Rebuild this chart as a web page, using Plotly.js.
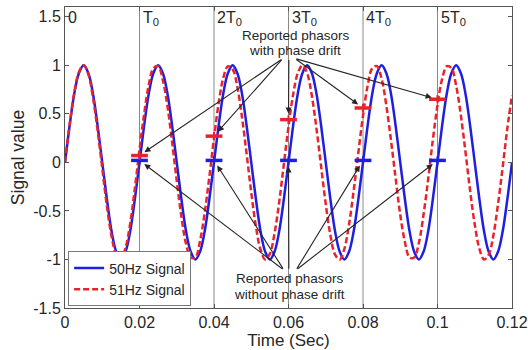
<!DOCTYPE html>
<html>
<head>
<meta charset="utf-8">
<script src="https://cdn.plot.ly/plotly-3.0.1.min.js"></script>
<style>html,body{margin:0;padding:0;background:#fff;}#chart{width:528px;height:350px;}</style>
</head>
<body>
<div id="chart"></div>
<script>
// time samples (s)
const timeSec = [0,0.00125,0.0025,0.00375,0.005,0.00625,0.0075,0.00875,0.01,0.01125,0.0125,0.01375,0.015,0.01625,0.0175,0.01875,
0.02,0.02125,0.0225,0.02375,0.025,0.02625,0.0275,0.02875,0.03,0.03125,0.0325,0.03375,0.035,0.03625,0.0375,0.03875,
0.04,0.04125,0.0425,0.04375,0.045,0.04625,0.0475,0.04875,0.05,0.05125,0.0525,0.05375,0.055,0.05625,0.0575,0.05875,
0.06,0.06125,0.0625,0.06375,0.065,0.06625,0.0675,0.06875,0.07,0.07125,0.0725,0.07375,0.075,0.07625,0.0775,0.07875,
0.08,0.08125,0.0825,0.08375,0.085,0.08625,0.0875,0.08875,0.09,0.09125,0.0925,0.09375,0.095,0.09625,0.0975,0.09875,
0.1,0.10125,0.1025,0.10375,0.105,0.10625,0.1075,0.10875,0.11,0.11125,0.1125,0.11375,0.115,0.11625,0.1175,0.11875,0.12];

// 50Hz signal values
const signal50 = [0,0.38,0.71,0.92,1,0.92,0.71,0.38,0,-0.38,-0.71,-0.92,-1,-0.92,-0.71,-0.38,
0,0.38,0.71,0.92,1,0.92,0.71,0.38,0,-0.38,-0.71,-0.92,-1,-0.92,-0.71,-0.38,
0,0.38,0.71,0.92,1,0.92,0.71,0.38,0,-0.38,-0.71,-0.92,-1,-0.92,-0.71,-0.38,
0,0.38,0.71,0.92,1,0.92,0.71,0.38,0,-0.38,-0.71,-0.92,-1,-0.92,-0.71,-0.38,
0,0.38,0.71,0.92,1,0.92,0.71,0.38,0,-0.38,-0.71,-0.92,-1,-0.92,-0.71,-0.38,
0,0.38,0.71,0.92,1,0.92,0.71,0.38,0,-0.38,-0.71,-0.92,-1,-0.92,-0.71,-0.38,0];

// 51Hz signal values
const signal51 = [0,0.39,0.72,0.93,1.00,0.91,0.67,0.33,-0.06,-0.45,-0.76,-0.95,-1.00,-0.88,-0.63,-0.27,
0.13,0.50,0.80,0.97,0.99,0.85,0.58,0.21,-0.19,-0.56,-0.84,-0.98,-0.98,-0.81,-0.52,-0.15,
0.25,0.61,0.87,0.99,0.96,0.78,0.47,0.09,-0.31,-0.66,-0.90,-1.00,-0.94,-0.73,-0.41,-0.02,
0.37,0.70,0.92,1.00,0.92,0.69,0.35,-0.04,-0.43,-0.75,-0.95,-1.00,-0.89,-0.64,-0.29,0.10,
0.48,0.79,0.97,0.99,0.86,0.59,0.23,-0.16,-0.54,-0.82,-0.98,-0.98,-0.83,-0.54,-0.17,0.23,
0.59,0.86,0.99,0.97,0.79,0.49,0.11,-0.29,-0.64,-0.89,-1.00,-0.95,-0.75,-0.43,-0.05,0.35,0.69];

// period boundaries and their labels
const periodTimes = [0, 0.02, 0.04, 0.06, 0.08, 0.1];
const periodLabels = ['0', 'T<sub>0</sub>', '2T<sub>0</sub>', '3T<sub>0</sub>', '4T<sub>0</sub>', '5T<sub>0</sub>'];

// reported phasors
const phasorTimes = [0.02, 0.04, 0.06, 0.08, 0.1];
const phasorNoDrift = [0.02, 0.02, 0.02, 0.02, 0.02];
const phasorDrift = [0.07, 0.27, 0.44, 0.56, 0.65];

// annotation arrow tails and texts
const driftTailX = [0.0585, 0.0585, 0.0601, 0.0617, 0.0617];
const driftTailY = 1.07;
const noDriftTailX = [0.0588, 0.0588, 0.0601, 0.062, 0.062];
const noDriftTailY = -1.11;
const driftText = ['Reported phasors', 'with phase drift'];
const noDriftText = ['Reported phasors', 'without phase drift'];

// axis ticks
const xTickVals = [0, 0.02, 0.04, 0.06, 0.08, 0.1, 0.12];
const xTickText = ['0', '0.02', '0.04', '0.06', '0.08', '0.1', '0.12'];
const yTickVals = [-1.5, -1, -0.5, 0, 0.5, 1, 1.5];
const yTickText = ['-1.5', '-1', '-0.5', '0', '0.5', '1', '1.5'];

const FONT = '"Liberation Sans", Arial, Helvetica, sans-serif';
const BLUE = '#1f1fe0';
const RED = '#e8232b';
const INK = '#262626';

const traces = [
  {x: timeSec, y: signal50, type: 'scatter', mode: 'lines', name: '50Hz Signal',
   line: {color: BLUE, width: 2.5, shape: 'spline'}},
  {x: timeSec, y: signal51, type: 'scatter', mode: 'lines', name: '51Hz Signal',
   line: {color: RED, width: 2.5, dash: '6px,3px', shape: 'spline'}},
  {x: phasorTimes, y: phasorNoDrift, type: 'scatter', mode: 'markers', showlegend: false, hoverinfo: 'skip',
   marker: {symbol: 'line-ew', size: 12, line: {color: BLUE, width: 3.5}}},
  {x: phasorTimes, y: phasorNoDrift, type: 'scatter', mode: 'markers', showlegend: false, hoverinfo: 'skip',
   marker: {symbol: 'line-ns', size: 6, line: {color: BLUE, width: 2}}},
  {x: phasorTimes, y: phasorDrift, type: 'scatter', mode: 'markers', showlegend: false, hoverinfo: 'skip',
   marker: {symbol: 'line-ew', size: 12, line: {color: RED, width: 3.5}}},
  {x: phasorTimes, y: phasorDrift, type: 'scatter', mode: 'markers', showlegend: false, hoverinfo: 'skip',
   marker: {symbol: 'line-ns', size: 6, line: {color: RED, width: 2}}}
];

const shapes = periodTimes.slice(1).map(t => ({
  type: 'line', xref: 'x', yref: 'paper', x0: t, x1: t, y0: 0, y1: 1,
  line: {color: '#8a8a8a', width: 1}, layer: 'below'
}));

const annotations = [];
periodTimes.forEach((t, i) => {
  annotations.push({x: t, y: 1, xref: 'x', yref: 'paper', xanchor: 'left', yanchor: 'top',
    text: periodLabels[i], showarrow: false, xshift: 1, yshift: 0,
    font: {family: FONT, size: 16, color: INK}});
});
phasorTimes.forEach((t, i) => {
  annotations.push({x: t, y: phasorDrift[i], xref: 'x', yref: 'y', axref: 'x', ayref: 'y',
    ax: driftTailX[i], ay: driftTailY, text: '', showarrow: true,
    arrowhead: 2, arrowsize: 1.1, arrowwidth: 1.1, arrowcolor: INK, standoff: 6});
  annotations.push({x: t, y: phasorNoDrift[i], xref: 'x', yref: 'y', axref: 'x', ayref: 'y',
    ax: noDriftTailX[i], ay: noDriftTailY, text: '', showarrow: true,
    arrowhead: 2, arrowsize: 1.1, arrowwidth: 1.1, arrowcolor: INK, standoff: 6});
});
const textFont = {family: FONT, size: 13.5, color: INK};
annotations.push({x: 0.0620, y: 1.31, xref: 'x', yref: 'y', text: driftText[0], showarrow: false, font: textFont, borderpad: 0});
annotations.push({x: 0.0618, y: 1.155, xref: 'x', yref: 'y', text: driftText[1], showarrow: false, font: textFont, borderpad: 0});
annotations.push({x: 0.0604, y: -1.195, xref: 'x', yref: 'y', text: noDriftText[0], showarrow: false, font: textFont, borderpad: 0});
annotations.push({x: 0.0604, y: -1.36, xref: 'x', yref: 'y', text: noDriftText[1], showarrow: false, font: textFont, borderpad: 0});

const layout = {
  width: 528, height: 350,
  margin: {l: 65, r: 16, t: 7, b: 42},
  paper_bgcolor: '#fff', plot_bgcolor: '#fff',
  font: {family: FONT, size: 16, color: INK},
  showlegend: true,
  legend: {x: 0.007, y: 0.005, xanchor: 'left', yanchor: 'bottom',
    bgcolor: '#fff', bordercolor: '#777', borderwidth: 1,
    font: {family: FONT, size: 14, color: INK}, tracegroupgap: 0},
  xaxis: {range: [0, 0.12], tickvals: xTickVals, ticktext: xTickText,
    ticks: 'inside', ticklen: 4, tickcolor: '#555', showgrid: false, zeroline: false,
    showline: true, linecolor: '#555', linewidth: 1, mirror: 'allticks',
    ticklabeloverflow: 'allow',
    tickfont: {family: FONT, size: 16, color: INK},
    title: {text: 'Time (Sec)', font: {family: FONT, size: 17, color: INK}, standoff: 2}},
  yaxis: {range: [-1.5, 1.6], tickvals: yTickVals, ticktext: yTickText,
    ticks: 'inside', ticklen: 4, tickcolor: '#555', showgrid: false, zeroline: false,
    showline: true, linecolor: '#555', linewidth: 1, mirror: 'allticks',
    ticklabeloverflow: 'allow',
    tickfont: {family: FONT, size: 16, color: INK},
    title: {text: 'Signal value', font: {family: FONT, size: 17.5, color: INK}, standoff: 4}},
  shapes: shapes,
  annotations: annotations
};

Plotly.newPlot('chart', traces, layout, {displayModeBar: false, staticPlot: true});
</script>
</body>
</html>
